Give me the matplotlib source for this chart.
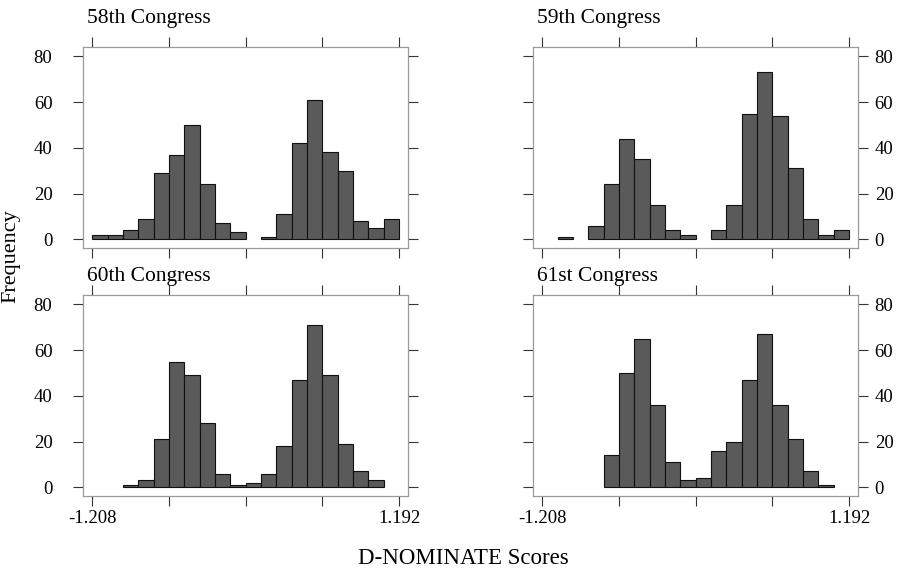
import matplotlib.pyplot as plt
import numpy as np

plt.rcParams['font.family'] = ['Liberation Serif', 'DejaVu Serif']

# histogram bins: 20 bins of width 0.12 from -1.208 to 1.192
bin_start = -1.208
bin_width = 0.12

titles = ['58th Congress', '59th Congress', '60th Congress', '61st Congress']

counts_58 = [2, 2, 4, 9, 29, 37, 50, 24, 7, 3, 0, 1, 11, 42, 61, 38, 30, 8, 5, 9]
counts_59 = [0, 1, 0, 6, 24, 44, 35, 15, 4, 2, 0, 4, 15, 55, 73, 54, 31, 9, 2, 4]
counts_60 = [0, 0, 1, 3, 21, 55, 49, 28, 6, 1, 2, 6, 18, 47, 71, 49, 19, 7, 3, 0]
counts_61 = [0, 0, 0, 0, 14, 50, 65, 36, 11, 3, 4, 16, 20, 47, 67, 36, 21, 7, 1, 0]

all_counts = [counts_58, counts_59, counts_60, counts_61]

x_ticks = [-1.208, -0.608, -0.008, 0.592, 1.192]
x_tick_labels = ['-1.208', '', '', '', '1.192']
y_ticks = [0, 20, 40, 60, 80]

fig = plt.figure(figsize=(8.99, 5.70), dpi=100)

W, H = 899, 570
boxes = [(83, 47, 408, 248), (533, 47, 858, 248),
         (83, 295, 408, 496), (533, 295, 858, 496)]
title_y = [18, 18, 277, 277]

for i, (title, counts) in enumerate(zip(titles, all_counts)):
    x0, y0, x1, y1 = boxes[i]
    ax = fig.add_axes([x0 / W, 1 - y1 / H, (x1 - x0) / W, (y1 - y0) / H])
    counts = np.array(counts)
    lefts = bin_start + bin_width * np.arange(len(counts))
    keep = counts > 0
    ax.bar(lefts[keep], counts[keep], width=bin_width, align='edge',
           color='#5a5a5a', edgecolor='#111111', linewidth=0.8)

    ax.set_xlim(-1.28, 1.262)
    ax.set_ylim(-3.8, 84.1)
    ax.set_xticks(x_ticks)
    ax.set_yticks(y_ticks)
    for s in ax.spines.values():
        s.set_color('#9a9a9a')
        s.set_linewidth(0.9)
    ax.tick_params(direction='out', length=7, width=0.8, color='#333333',
                   top=True, bottom=True, left=True, right=True, labelsize=13.5)
    if i >= 2:
        ax.set_xticklabels(x_tick_labels)
        ax.tick_params(axis='x', pad=3)
    else:
        ax.set_xticklabels([])
    if i % 2 == 0:
        ax.tick_params(axis='y', labelleft=True, labelright=False, pad=15)
    else:
        ax.tick_params(axis='y', labelleft=False, labelright=True, pad=5)

    fig.text((x0 + 4) / W, 1 - title_y[i] / H, title, fontsize=15.5,
             ha='left', va='center')

fig.text(11 / W, 1 - 256 / H, 'Frequency', rotation=90, fontsize=16,
         ha='center', va='center')
fig.text(463 / W, 1 - 559 / H, 'D-NOMINATE Scores', fontsize=16.5,
         ha='center', va='center')

plt.savefig('out.png', dpi=100)
